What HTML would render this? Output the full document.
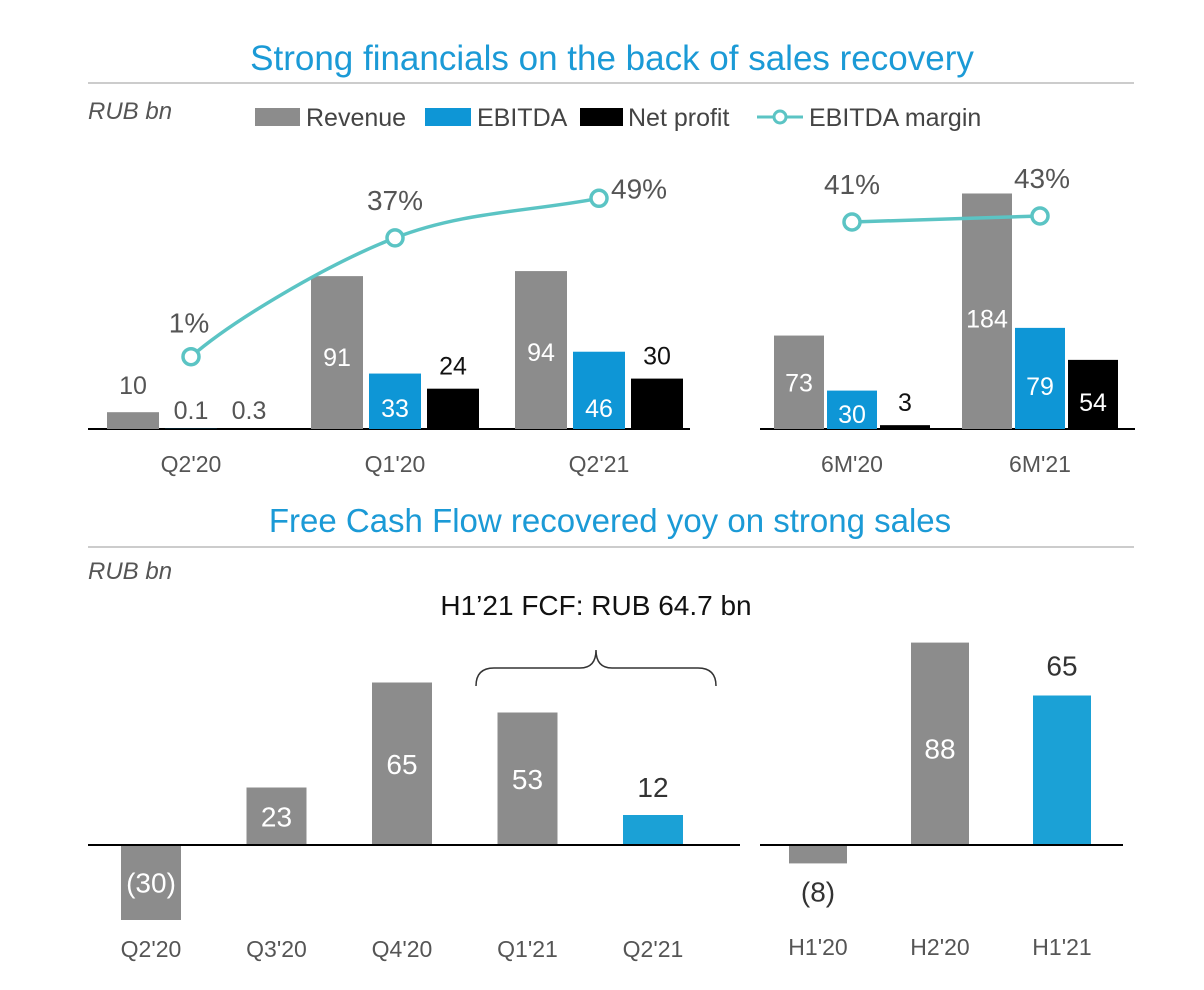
<!DOCTYPE html>
<html><head><meta charset="utf-8">
<style>
html,body{margin:0;padding:0;background:#fff;}
svg{display:block;font-family:"Liberation Sans",sans-serif;}
</style></head>
<body>
<svg id="c" width="1204" height="990" viewBox="0 0 1204 990">
<text x="612" y="70" text-anchor="middle" font-size="35" fill="#1b9ad6">Strong financials on the back of sales recovery</text>
<line x1="88" y1="83" x2="1134" y2="83" stroke="#bbb" stroke-width="1.5"/>
<text x="88" y="119" font-size="24" font-style="italic" fill="#555">RUB bn</text>
<g>
<rect x="255" y="108" width="45" height="18" fill="#8c8c8c"/>
<text x="306" y="126" font-size="25" fill="#444">Revenue</text>
<rect x="425" y="108" width="46" height="18" fill="#0e96d6"/>
<text x="477" y="126" font-size="25" fill="#444">EBITDA</text>
<rect x="580" y="108" width="43" height="18" fill="#000"/>
<text x="628" y="126" font-size="25" fill="#444">Net profit</text>
<line x1="757" y1="117" x2="803" y2="117" stroke="#5bc4c4" stroke-width="3"/>
<circle cx="780" cy="117" r="6" fill="#fff" stroke="#5bc4c4" stroke-width="3"/>
<text x="809" y="126" font-size="25" fill="#444">EBITDA margin</text>
</g>
<text x="610" y="532" text-anchor="middle" font-size="33" fill="#1b9ad6">Free Cash Flow recovered yoy on strong sales</text>
<line x1="88" y1="547" x2="1134" y2="547" stroke="#bbb" stroke-width="1.5"/>
<text x="88" y="579" font-size="24" font-style="italic" fill="#555">RUB bn</text>
<text x="596" y="615" text-anchor="middle" font-size="28" fill="#111">H1’21 FCF: RUB 64.7 bn</text>
<path d="M476 686 Q476 668 494 668 L580 668 Q596 668 596 650 Q596 668 612 668 L698 668 Q716 668 716 686" fill="none" stroke="#333" stroke-width="1.5"/>
</svg>
<script>
// Top-left quarterly chart data
const qCats = ["Q2'20","Q1'20","Q2'21"];
const qRevenue = [10, 91, 94];
const qEbitda = [0.1, 33, 46];
const qNet = [0.3, 24, 30];
const qMargin = [1, 37, 49];
const qRevenueLabels = ["10","91","94"];
const qEbitdaLabels = ["0.1","33","46"];
const qNetLabels = ["0.3","24","30"];
// Top-right 6M chart data
const hCats = ["6M'20","6M'21"];
const hRevenue = [73, 184];
const hEbitda = [30, 79];
const hNet = [3, 54];
const hMargin = [41, 43];
// Bottom-left FCF quarterly
const fCats = ["Q2'20","Q3'20","Q4'20","Q1'21","Q2'21"];
const fValues = [-30, 23, 65, 53, 12];
const fLabels = ["(30)","23","65","53","12"];
// Bottom-right FCF half-year
const fhCats = ["H1'20","H2'20","H1'21"];
const fhValues = [-8, 88, 65];
const fhLabels = ["(8)","88","65"];

const svg = document.getElementById('c');
const NS = 'http://www.w3.org/2000/svg';
function mk(tag, attrs){const e=document.createElementNS(NS,tag);for(const k in attrs)e.setAttribute(k,attrs[k]);svg.appendChild(e);return e;}
function txt(x,y,s,size,fill,anchor){const t=mk('text',{x:x,y:y,'font-size':size,fill:fill,'text-anchor':anchor||'middle'});t.textContent=s;return t;}

const GREY='#8c8c8c', BLUE='#0e96d6', BLUE2='#1ba1d6', TEAL='#5bc4c4';

// ---------- top-left ----------
const tlBase=429, tlScale=1.68, tlX0=107, tlStep=204, bw=52, bstep=58;
const tlY=v=>tlBase-v*tlScale;
const tlMY=m=>360-m*3.3;
let ax=mk('line',{x1:88,y1:tlBase,x2:690,y2:tlBase,stroke:'#000','stroke-width':2});


const series=[[qRevenue,GREY,qRevenueLabels],[qEbitda,BLUE,qEbitdaLabels],[qNet,'#000',qNetLabels]];
qCats.forEach((c,i)=>{
  const gx=tlX0+i*tlStep;
  series.forEach((s,j)=>{
    const v=s[0][i], x=gx+j*bstep, y=tlY(v);
    const r=mk('rect',{x:x,y:y,width:bw,height:tlBase-y,fill:s[1]});
    
    
    const h=tlBase-y;
    let t;
    if(h>50 && j==0) t=txt(x+bw/2,y+90,s[2][i],25,'#fff');
    else if(h>50 && j==1) t=txt(x+bw/2,tlBase-12,s[2][i],25,'#fff');
    else if(h<5) t=txt(x+bw/2,tlBase-10,s[2][i],25,'#555');
    else t=txt(x+bw/2,y-(j==0?18:14),s[2][i],25,j==2?'#111':'#555');
    
    
  });
  const lab=txt(gx+bstep+bw/2,472,c,23,'#555');
  
  
});
// margin line (cardinal spline)
const mp=qMargin.map((m,i)=>[tlX0+i*tlStep+bstep+bw/2,tlMY(m)]);
function tan(i){const a=mp[Math.max(0,i-1)],b=mp[Math.min(mp.length-1,i+1)];const k=(i==0||i==mp.length-1)?0.5:0.25;return [(b[0]-a[0])*k,(b[1]-a[1])*k];}
let d='M'+mp[0][0]+' '+mp[0][1];
for(let i=1;i<mp.length;i++){const p=mp[i-1],q=mp[i],t0=tan(i-1),t1=tan(i);
  const t0b=i==1?[t0[0]*0.6,t0[1]*0.9]:t0;
  d+=` C${p[0]+t0b[0]/1.5} ${p[1]+t0b[1]/1.5} ${q[0]-t1[0]/1.5} ${q[1]-t1[1]/1.5} ${q[0]} ${q[1]}`;}
const ml=mk('path',{d:d,fill:'none',stroke:TEAL,'stroke-width':3.5});


mp.forEach((p,i)=>{
  const ci=mk('circle',{cx:p[0],cy:p[1],r:8,fill:'#fff',stroke:TEAL,'stroke-width':3.5});
  
  
  const t=i==2?txt(p[0]+12,p[1]+0,qMargin[i]+'%',28,'#555','start'):txt(p[0],p[1]-(i==0?24:28),qMargin[i]+'%',28,'#555');
  if(i==0)t.setAttribute('x',p[0]-2);
  
  
});

// ---------- top-right ----------
const trScale=1.28, trX0=774, trStep=188, bw2=50, bstep2=53;
const trY=v=>tlBase-v*trScale;
const trMY=m=>345-m*3;
ax=mk('line',{x1:760,y1:tlBase,x2:1135,y2:tlBase,stroke:'#000','stroke-width':2});


const hs=[[hRevenue,GREY],[hEbitda,BLUE],[hNet,'#000']];
hCats.forEach((c,i)=>{
  const gx=trX0+i*trStep;
  hs.forEach((s,j)=>{
    const v=s[0][i], x=gx+j*bstep2, y=trY(v);
    const r=mk('rect',{x:x,y:y,width:bw2,height:tlBase-y,fill:s[1]});
    
    
    let t;
    if((tlBase-y)>30){
      const ty = j==0 ? y+(i==0?56:134) : (j==1? tlBase-(i==0?6:34) : tlBase-18);
      t=txt(x+bw2/2,ty,String(v),25,'#fff');
    } else t=txt(x+bw2/2,y-14,String(v),25,'#111');
    
    
  });
  const lab=txt(gx+bstep2+bw2/2,472,c,23,'#555');
  
  
});
const hp=hMargin.map((m,i)=>[trX0+i*trStep+bstep2+bw2/2,trMY(m)]);
const hl=mk('line',{x1:hp[0][0],y1:hp[0][1],x2:hp[1][0],y2:hp[1][1],stroke:TEAL,'stroke-width':3.5});


hp.forEach((p,i)=>{
  const ci=mk('circle',{cx:p[0],cy:p[1],r:8,fill:'#fff',stroke:TEAL,'stroke-width':3.5});
  
  
  const t=txt(p[0]+(i==0?0:2),p[1]-28,hMargin[i]+'%',28,'#555');
  
  
});

// ---------- bottom-left ----------
const blBase=845, blScale=2.5, blX0=121, blStep=125.5, bw3=60;
const blY=v=>blBase-v*blScale;
fCats.forEach((c,i)=>{
  const v=fValues[i], x=blX0+i*blStep, y=Math.min(blY(v),blBase), h=Math.abs(v)*blScale;
  const r=mk('rect',{x:x,y:y,width:bw3,height:h,fill:i==fCats.length-1?BLUE2:GREY});
  
  
  let t;
  if(h>45) t=txt(x+bw3/2,v<0?blBase+h/2+10:y+Math.min(h/2,90)+10,fLabels[i],28,'#fff');
  else t=txt(x+bw3/2,y-18,fLabels[i],28,'#333');
  
  
  const lab=txt(x+bw3/2,957,c,23,'#555');
  
  
});
ax=mk('line',{x1:88,y1:blBase,x2:740,y2:blBase,stroke:'#000','stroke-width':2});



// ---------- bottom-right ----------
const brScale=2.3, brX0=789, brStep=122, bw4=58;
const brY=v=>blBase-v*brScale;
fhCats.forEach((c,i)=>{
  const v=fhValues[i], x=brX0+i*brStep, y=Math.min(brY(v),blBase), h=Math.abs(v)*brScale;
  const r=mk('rect',{x:x,y:y,width:bw4,height:h,fill:i==fhCats.length-1?BLUE2:GREY});
  
  
  let t;
  if(v<0) t=txt(x+bw4/2,blBase+h+38,fhLabels[i],28,'#333');
  else if(i==1) t=txt(x+bw4/2,y+116,fhLabels[i],28,'#fff');
  else t=txt(x+bw4/2,y-20,fhLabels[i],28,'#333');
  
  
  const lab=txt(x+bw4/2,955,c,23,'#555');
  
  
});
ax=mk('line',{x1:760,y1:blBase,x2:1123,y2:blBase,stroke:'#000','stroke-width':2});


</script>
</body></html>
